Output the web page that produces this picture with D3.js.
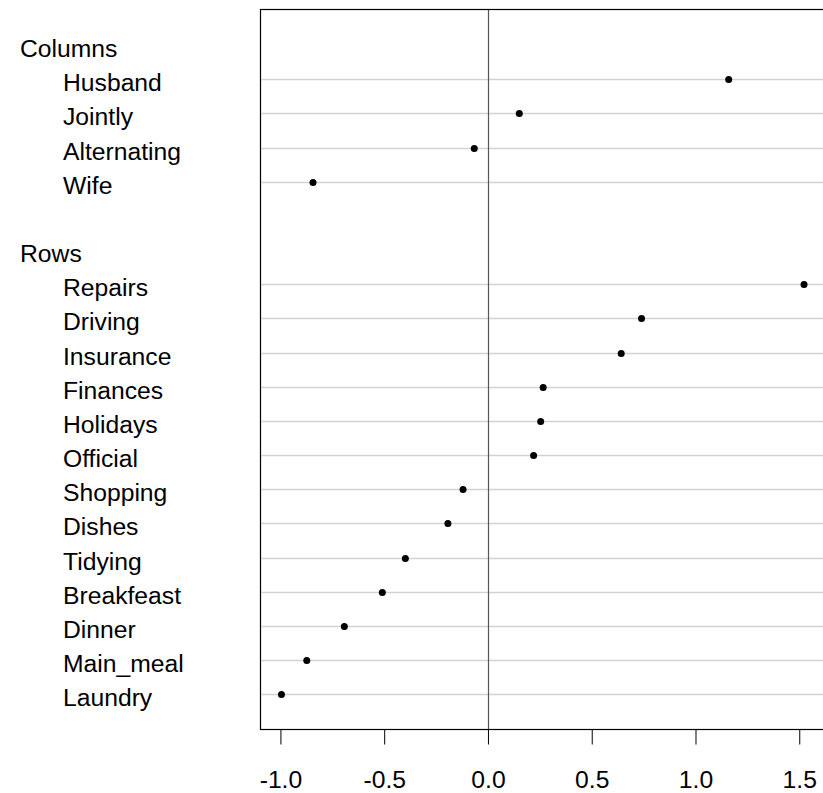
<!DOCTYPE html>
<html>
<head>
<meta charset="utf-8">
<script src="https://cdn.jsdelivr.net/npm/d3@7"></script>
<style>
  html, body { margin: 0; padding: 0; background: #fff; }
  svg { display: block; }
  text { font-family: "Liberation Sans", Arial, sans-serif; fill: #000; }
</style>
</head>
<body>
<svg id="chart" width="823" height="793"></svg>
<script>
// ---- data ----
const columnHeader = "Columns";
const columnLabels = ["Husband", "Jointly", "Alternating", "Wife"];
const columnValues = [1.160, 0.151, -0.066, -0.843];

const rowHeader = "Rows";
const rowLabels = ["Repairs", "Driving", "Insurance", "Finances", "Holidays", "Official",
  "Shopping", "Dishes", "Tidying", "Breakfeast", "Dinner", "Main_meal", "Laundry"];
const rowValues = [1.523, 0.740, 0.642, 0.266, 0.254, 0.220,
  -0.120, -0.193, -0.398, -0.509, -0.692, -0.873, -0.995];

const xTicks = [-1.0, -0.5, 0.0, 0.5, 1.0, 1.5];

// ---- build line list ----
const lines = [];
lines.push({ label: columnHeader, header: true });
columnLabels.forEach((l, i) => lines.push({ label: l, value: columnValues[i] }));
lines.push({ label: "", blank: true });
lines.push({ label: rowHeader, header: true });
rowLabels.forEach((l, i) => lines.push({ label: l, value: rowValues[i] }));
lines.forEach((d, i) => d.index = i);

const svg = d3.select("#chart");
const pLeft = 260.5, pRight = 825, pTop = 9.5, pBottom = 729.5;

const x = d3.scaleLinear().domain([-1.096, 1.624]).range([pLeft, pRight]);
const y = d3.scaleLinear().domain([-1.04, 20.03]).range([pTop, pBottom]);

const items = lines.filter(d => d.value !== undefined);

// grid lines
svg.append("g").selectAll("line").data(items).join("line")
  .attr("x1", pLeft + 1).attr("x2", pRight)
  .attr("y1", d => Math.round(y(d.index)) + 0.5)
  .attr("y2", d => Math.round(y(d.index)) + 0.5)
  .attr("stroke", "#d3d3d3").attr("stroke-width", 1.4);

// zero line
svg.append("line")
  .attr("x1", Math.round(x(0)) + 0.5).attr("x2", Math.round(x(0)) + 0.5)
  .attr("y1", pTop).attr("y2", pBottom)
  .attr("stroke", "#555").attr("stroke-width", 1.2);

// points
svg.append("g").selectAll("circle").data(items).join("circle")
  .attr("cx", d => x(d.value))
  .attr("cy", d => Math.round(y(d.index)) + 0.5)
  .attr("r", 3.5)
  .attr("fill", "#000");

// box
svg.append("rect")
  .attr("x", pLeft).attr("y", pTop)
  .attr("width", pRight - pLeft).attr("height", pBottom - pTop)
  .attr("fill", "none").attr("stroke", "#000").attr("stroke-width", 1.2);

// labels
svg.append("g").selectAll("text").data(lines.filter(d => !d.blank)).join("text")
  .attr("x", d => d.header ? 20 : 63)
  .attr("y", d => y(d.index) + 12)
  .attr("font-size", "24.7px")
  .text(d => d.label);

// x axis
const fmt = d3.format(".1f");
const axis = d3.axisBottom(x)
  .tickValues(xTicks)
  .tickFormat(d => fmt(d).replace("\u2212", "-"))
  .tickSize(15)
  .tickPadding(26);
const gx = svg.append("g")
  .attr("transform", `translate(0,${pBottom})`)
  .call(axis);
gx.select(".domain").remove();
gx.selectAll(".tick line").attr("stroke", "#000").attr("stroke-width", 1);
gx.selectAll(".tick text")
  .attr("font-size", "24.7px")
  .attr("font-family", "Liberation Sans, Arial, sans-serif")
  .attr("fill", "#000");
</script>
</body>
</html>
